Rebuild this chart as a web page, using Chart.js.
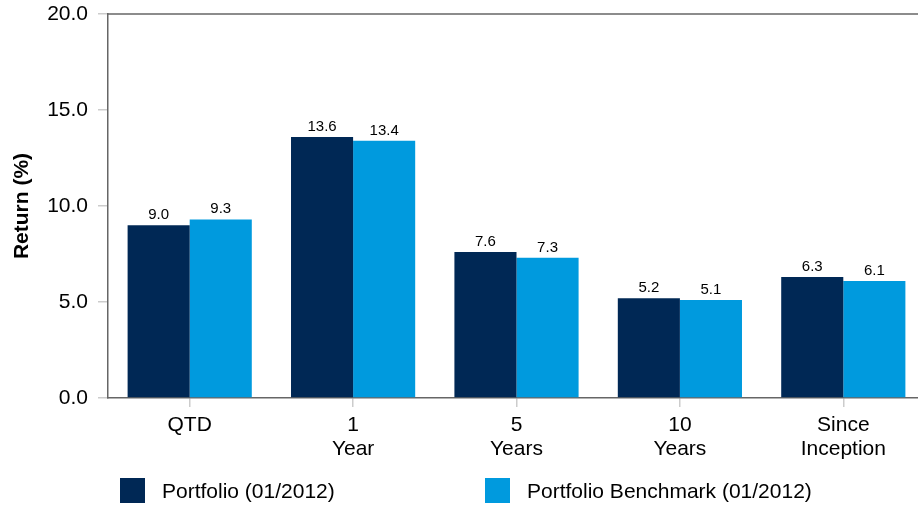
<!DOCTYPE html>
<html>
<head>
<meta charset="utf-8">
<script src="https://cdn.jsdelivr.net/npm/chart.js@4.4.1/dist/chart.umd.min.js"></script>
<style>
  html, body { margin: 0; padding: 0; background: #fff; overflow: hidden; }
  #wrap { width: 918px; height: 506px; overflow: hidden; }
</style>
</head>
<body>
<div id="wrap"><canvas id="returnsChart" width="925" height="506"></canvas></div>
<script>
const categories = [["QTD"], ["1", "Year"], ["5", "Years"], ["10", "Years"], ["Since", "Inception"]];
const portfolio = [9.0, 13.6, 7.6, 5.2, 6.3];
const benchmark = [9.3, 13.4, 7.3, 5.1, 6.1];
const seriesNames = ["Portfolio (01/2012)", "Portfolio Benchmark (01/2012)"];
const yTicks = [0, 5, 10, 15, 20];

const FONT = "'Liberation Sans', Arial, sans-serif";
const NAVY = "#002855";
const BLUE = "#009ade";

// labels above the bars + top frame line + legend
const extras = {
    id: "extras",
    afterDatasetsDraw(chart) {
        const ctx = chart.ctx;
        ctx.save();
        ctx.fillStyle = "#000";
        ctx.font = "15px " + FONT;
        ctx.textAlign = "center";
        ctx.textBaseline = "alphabetic";
        chart.data.datasets.forEach((ds, i) => {
            chart.getDatasetMeta(i).data.forEach((bar, j) => {
                ctx.fillText(ds.data[j].toFixed(1), bar.x, bar.y - 6);
            });
        });
        ctx.restore();
    },
    afterDraw(chart) {
        const ctx = chart.ctx;
        const area = chart.chartArea;
        ctx.save();
        ctx.strokeStyle = "#666";
        ctx.lineWidth = 1.5;
        ctx.beginPath();
        ctx.moveTo(area.left, area.top);
        ctx.lineTo(chart.width, area.top);
        ctx.stroke();

        // legend
        const items = [
            { x: 120, color: NAVY, text: seriesNames[0] },
            { x: 485, color: BLUE, text: seriesNames[1] }
        ];
        ctx.font = "21px " + FONT;
        ctx.textBaseline = "alphabetic";
        ctx.textAlign = "left";
        items.forEach(it => {
            ctx.fillStyle = it.color;
            ctx.fillRect(it.x, 478, 25, 25);
            ctx.fillStyle = "#000";
            ctx.fillText(it.text, it.x + 42, 498);
        });
        ctx.restore();
    }
};

const ctx = document.getElementById("returnsChart").getContext("2d");
new Chart(ctx, {
    type: "bar",
    data: {
        labels: categories,
        datasets: [
            {
                label: seriesNames[0],
                data: portfolio,
                backgroundColor: NAVY,
                borderWidth: 0
            },
            {
                label: seriesNames[1],
                data: benchmark,
                backgroundColor: BLUE,
                borderWidth: 0
            }
        ]
    },
    options: {
        responsive: false,
        animation: false,
        layout: { padding: { top: 14, right: 0, bottom: 0, left: 0 } },
        plugins: {
            legend: { display: false },
            tooltip: { enabled: false }
        },
        datasets: {
            bar: { categoryPercentage: 0.76, barPercentage: 1.0 }
        },
        scales: {
            x: {
                grid: {
                    offset: false,
                    drawOnChartArea: false,
                    drawTicks: true,
                    tickLength: 9,
                    tickColor: "#cccccc",
                    lineWidth: 1.5
                },
                border: { color: "#666", width: 1.5 },
                ticks: {
                    color: "#000",
                    font: { family: FONT, size: 21, lineHeight: 1.15 },
                    padding: 6,
                    maxRotation: 0,
                    autoSkip: false
                },
                afterFit(scale) {
                    scale.height = 108;
                    scale.paddingLeft = 0;
                    scale.paddingRight = 0;
                }
            },
            y: {
                min: 0,
                max: 20,
                afterBuildTicks(scale) {
                    scale.ticks = yTicks.map(v => ({ value: v }));
                },
                grid: {
                    drawOnChartArea: false,
                    drawTicks: true,
                    tickLength: 10,
                    tickColor: "#cccccc",
                    lineWidth: 1.5
                },
                border: { color: "#666", width: 1.5 },
                ticks: {
                    color: "#000",
                    font: { family: FONT, size: 21 },
                    padding: 10,
                    callback: v => Number(v).toFixed(1)
                },
                title: {
                    display: true,
                    text: "Return (%)",
                    color: "#000",
                    font: { family: FONT, size: 21, weight: "bold" },
                    padding: { top: 10, bottom: 0 }
                },
                afterFit(scale) {
                    scale.width = 108;
                    scale.paddingTop = 0;
                    scale.paddingBottom = 0;
                }
            }
        }
    },
    plugins: [extras]
});
</script>
</body>
</html>
